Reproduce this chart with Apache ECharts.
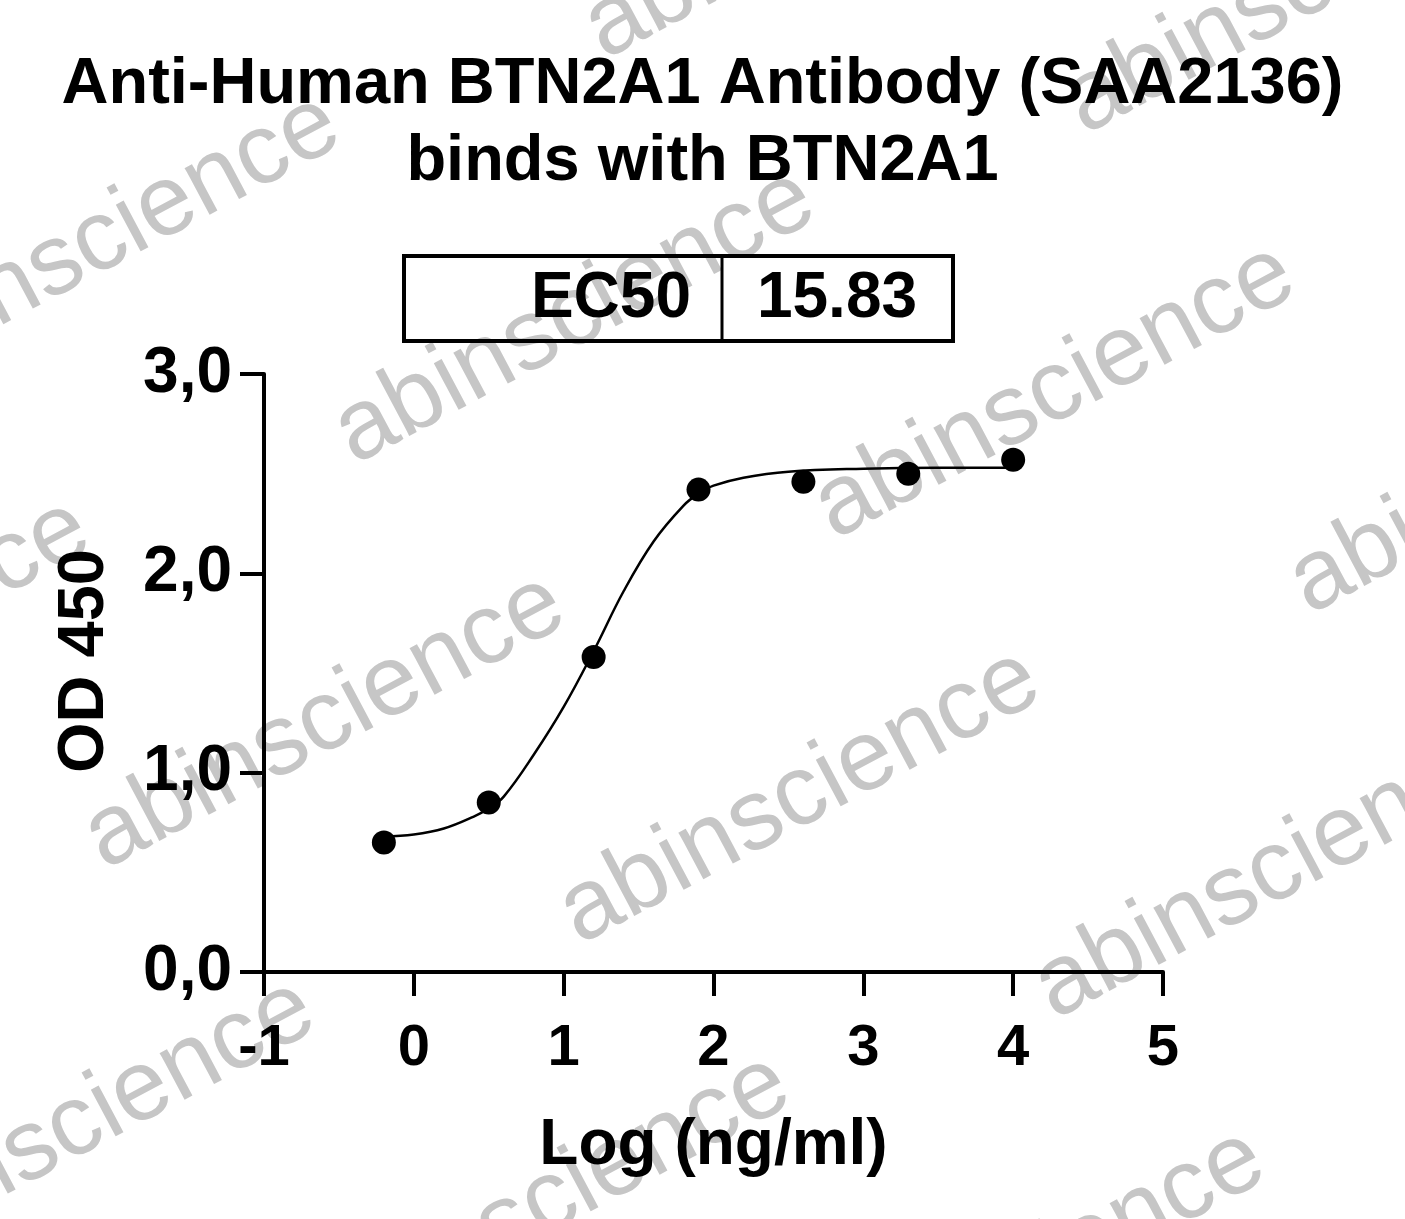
<!DOCTYPE html>
<html>
<head>
<meta charset="utf-8">
<title>BTN2A1 binding</title>
<script src="https://cdn.jsdelivr.net/npm/echarts@6/dist/echarts.min.js"></script>
<style>
    * { margin: 0; padding: 0; }
    html, body { background: #fff; }
</style>
</head>
<body>
<div id="main" style="width: 1405px; height: 1219px;"></div>
<script>
    // measured points, log concentration vs OD450
    var logConc = [-0.2, 0.5, 1.2, 1.9, 2.6, 3.3, 4.0];
    var od450 = [0.65, 0.85, 1.58, 2.42, 2.46, 2.50, 2.57];

    // fitted curve
    var curveX = [-0.2, 0, 0.2, 0.4, 0.5, 0.6, 0.8, 1.0, 1.2, 1.4, 1.6, 1.8, 1.9, 2.0, 2.2, 2.5, 3.0, 3.5, 4.0];
    var curveY = [0.68, 0.69, 0.72, 0.78, 0.82, 0.88, 1.09, 1.33, 1.61, 1.91, 2.16, 2.34, 2.40, 2.44, 2.48, 2.51, 2.525, 2.53, 2.53];

    var ec50Label = 'EC50';
    var ec50Value = '15.83';

    var FONT = '"Liberation Sans", Arial, sans-serif';

    // watermark lattice (text start points)
    var wmPos = [[340, 445], [820, 520], [90, 850], [565, 925], [1040, 1000],
                 [-135, 370], [1295, 595], [-385, 775], [590, 40], [1070, 115],
                 [-160, 1255], [315, 1330], [790, 1405]];

    var graphics = [];
    wmPos.forEach(function (p) {
        graphics.push({
            type: 'text',
            x: p[0] + 25, y: p[1] + 40,
            rotation: 28 * Math.PI / 180,
            z: -10,
            silent: true,
            style: {
                text: 'abinscience',
                font: '100px ' + FONT,
                fill: '#c6c6c6',
                textAlign: 'left',
                textVerticalAlign: 'bottom'
            }
        });
    });

    // EC50 table
    graphics.push({
        type: 'rect', z: 10,
        shape: { x: 404, y: 256, width: 549, height: 85 },
        style: { fill: 'none', stroke: '#000', lineWidth: 4 }
    });
    graphics.push({
        type: 'line', z: 10,
        shape: { x1: 722, y1: 256, x2: 722, y2: 341 },
        style: { stroke: '#000', lineWidth: 3 }
    });
    graphics.push({
        type: 'text', z: 10, x: 691, y: 299,
        style: { text: ec50Label, font: 'bold 64px ' + FONT, fill: '#000', textAlign: 'right', textVerticalAlign: 'middle' }
    });
    graphics.push({
        type: 'text', z: 10, x: 837, y: 299,
        style: { text: ec50Value, font: 'bold 64px ' + FONT, fill: '#000', textAlign: 'center', textVerticalAlign: 'middle' }
    });

    var points = logConc.map(function (x, i) { return [x, od450[i]]; });
    var curve = curveX.map(function (x, i) { return [x, curveY[i]]; });

    var option = {
        backgroundColor: '#fff',
        animation: false,
        title: {
            text: 'Anti-Human BTN2A1 Antibody (SAA2136)\nbinds with BTN2A1',
            left: 'center',
            top: 42,
            padding: [5, 0, 5, 20],
            textStyle: {
                fontFamily: FONT,
                fontWeight: 'bold',
                fontSize: 65,
                lineHeight: 77,
                color: '#000'
            }
        },
        grid: { left: 264, right: 242, top: 374, bottom: 247 },
        xAxis: {
            type: 'value',
            min: -1, max: 5, interval: 1,
            name: 'Log (ng/ml)',
            nameLocation: 'middle',
            nameGap: 142,
            nameTextStyle: { fontFamily: FONT, fontWeight: 'bold', fontSize: 64, color: '#000' },
            splitLine: { show: false },
            axisLine: { show: true, onZero: false, lineStyle: { color: '#000', width: 4 } },
            axisTick: { show: true, length: 24, lineStyle: { color: '#000', width: 4 } },
            axisLabel: { margin: 48, fontFamily: FONT, fontWeight: 'bold', fontSize: 58, color: '#000' }
        },
        yAxis: {
            type: 'value',
            min: 0, max: 3, interval: 1,
            name: 'OD 450',
            nameLocation: 'middle',
            nameGap: 146,
            nameTextStyle: { fontFamily: FONT, fontWeight: 'bold', fontSize: 65, color: '#000', padding: [0, 0, 0, 24] },
            splitLine: { show: false },
            axisLine: { show: true, onZero: false, lineStyle: { color: '#000', width: 4 } },
            axisTick: { show: true, length: 24, lineStyle: { color: '#000', width: 4 } },
            axisLabel: {
                margin: 32, fontFamily: FONT, fontWeight: 'bold', fontSize: 64, color: '#000',
                formatter: function (v) { return v.toFixed(1).replace('.', ','); }
            }
        },
        series: [
            {
                type: 'line',
                name: 'fit',
                data: curve,
                smooth: 0.4,
                symbol: 'none',
                lineStyle: { color: '#000', width: 2.5 },
                z: 3
            },
            {
                type: 'scatter',
                name: 'OD450',
                data: points,
                symbol: 'circle',
                symbolSize: 24,
                itemStyle: { color: '#000', opacity: 1 },
                z: 4
            }
        ],
        graphic: graphics
    };

    var myChart = echarts.init(document.getElementById('main'));
    myChart.setOption(option);
</script>
</body>
</html>
